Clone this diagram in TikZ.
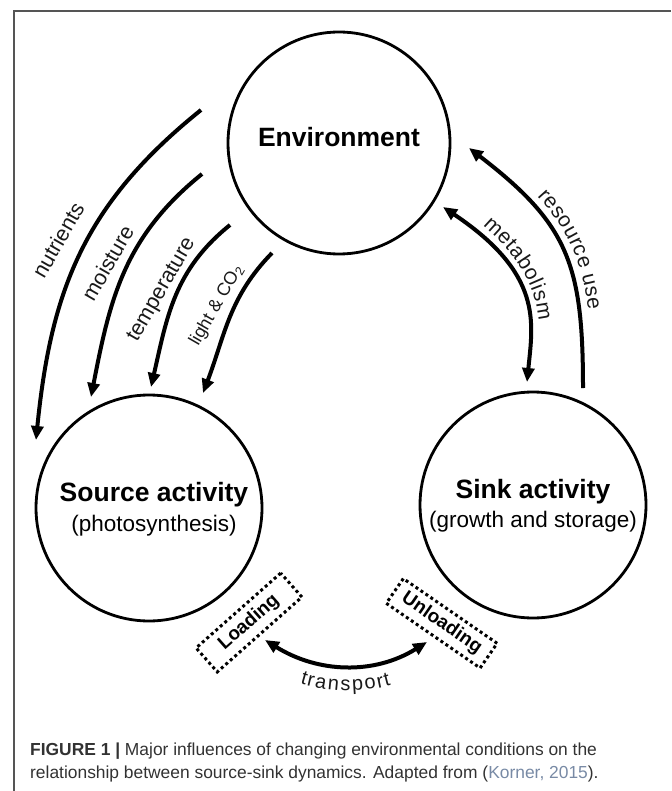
\documentclass[tikz,border=0pt]{standalone}
\usepackage{fontspec}
\setmainfont{Liberation Sans}
\usetikzlibrary{arrows.meta,decorations.text}

\definecolor{framegray}{RGB}{85,85,85}
\definecolor{captext}{RGB}{50,50,50}
\definecolor{citeblue}{RGB}{120,138,165}
\definecolor{labtext}{RGB}{25,25,25}

\newcommand{\picfs}[1]{\fontsize{#1}{#1}\selectfont}

\begin{document}
\begin{tikzpicture}[x=1pt,y=-1pt,
  pool/.style={circle, draw, line width=2.8pt, minimum size=226pt, inner sep=0pt},
  title/.style={anchor=base, font=\bfseries\picfs{26.5}},
  subtitle/.style={anchor=base, font=\picfs{22.5}},
  flow/.style={line width=4pt, -{Triangle[length=14pt,width=12pt]}},
  twoway/.style={line width=4pt, {Triangle[length=14pt,width=12pt]}-{Triangle[length=14pt,width=12pt]}},
  flowlabel/.style={font=\picfs{21.5}, text=labtext, inner sep=0pt, rotate=60},
  dotbox/.style={draw, line width=3pt, dash pattern=on 3pt off 3pt,
    font=\bfseries\picfs{19}, inner sep=0pt},
  captionline/.style={anchor=base west, font=\picfs{17.4}, text=captext, inner sep=0pt}
]
\useasboundingbox (0,0) rectangle (671,791);

% frame
\draw[framegray, line width=1.7pt] (14,791) -- (14,10.7) -- (671,10.7);

% the three pools
\node[pool, minimum size=222pt] (env)  at (339,143) {};
\node[pool] (src)  at (149,508) {};
\node[pool] (sink) at (533,505) {};

\node[title] (envt) at (339,146.7) {Environment};
\node[title] (srct) at (154,501) {Source activity};
\node[subtitle] (srcs) at (154,531) {(photosynthesis)};
\node[title] (sinkt) at (533,498) {Sink activity};
\node[subtitle] (sinks) at (533,527) {(growth and storage)};

% environmental influences on the source
\coordinate (nutA) at (201,110);  \coordinate (nutB) at (36,440);
\coordinate (moiA) at (202,174);  \coordinate (moiB) at (91,397);
\coordinate (temA) at (230,225);  \coordinate (temB) at (151,387);
\coordinate (ligA) at (272,253);  \coordinate (ligB) at (203,393);

\draw[flow] (nutA) .. controls (84,204) and (51,290) .. (nutB);
\draw[flow] (moiA) .. controls (124,237) and (110,299) .. (moiB);
\draw[flow] (temA) .. controls (174,270) and (167,317) .. (temB);
\draw[flow] (ligA) .. controls (229,297) and (225,335) .. (ligB);

\node[flowlabel] (nutL) at (58,240) {nutrients};
\node[flowlabel] (moiL) at (107.5,263) {moisture};
\node[flowlabel] (temL) at (162,290) {temperature};
\node[flowlabel, font=\picfs{18}] (ligL) at (216.7,305.5) {light \& CO\textsubscript{2}};

% sink feedback to the environment
\coordinate (resA) at (583,388);  \coordinate (resB) at (469,148);
\coordinate (metA) at (443,207);  \coordinate (metB) at (527,382);

\draw[flow] (resA) .. controls (583,264) and (568,224) .. (resB);
\draw[twoway] (metA) .. controls (543,274) and (533,322) .. (metB);

\path[decorate, decoration={text along path, text={|\picfs{21}|resource use},
    text color=labtext, text align={left indent=82pt}, raise=9pt}]
  (resB) .. controls (568,224) and (583,264) .. (resA);
\path[decorate, decoration={text along path, text={|\picfs{21}|metabolism},
    text color=labtext, text align={left indent=42pt}, raise=9pt}]
  (metA) .. controls (543,274) and (533,322) .. (metB);

% phloem transport between source and sink
\node[dotbox, rotate=41.5, minimum width=113pt, minimum height=32pt] (load) at (249,622.5) {Loading};
\node[dotbox, rotate=-34.6, minimum width=114pt, minimum height=30pt] (unload) at (441.7,623.3) {Unloading};

\coordinate (trA) at (265,640);  \coordinate (trB) at (427,642);
\draw[twoway] (trA) .. controls (318,673) and (374,675) .. (trB);
\path[decorate, decoration={text along path, text={|\picfs{20}|transport},
    text color=labtext, text align=center, raise=-25pt}]
  (trA) .. controls (318,673) and (374,675) .. (trB);

% caption
\node[captionline] (cap1) at (30,755)
  {\textbf{FIGURE 1 |} Major influences of changing environmental conditions on the};
\node[captionline] (cap2) at (30,778)
  {relationship between source-sink dynamics. Adapted from (\textcolor{citeblue}{Korner, 2015}).};
\end{tikzpicture}
\end{document}
